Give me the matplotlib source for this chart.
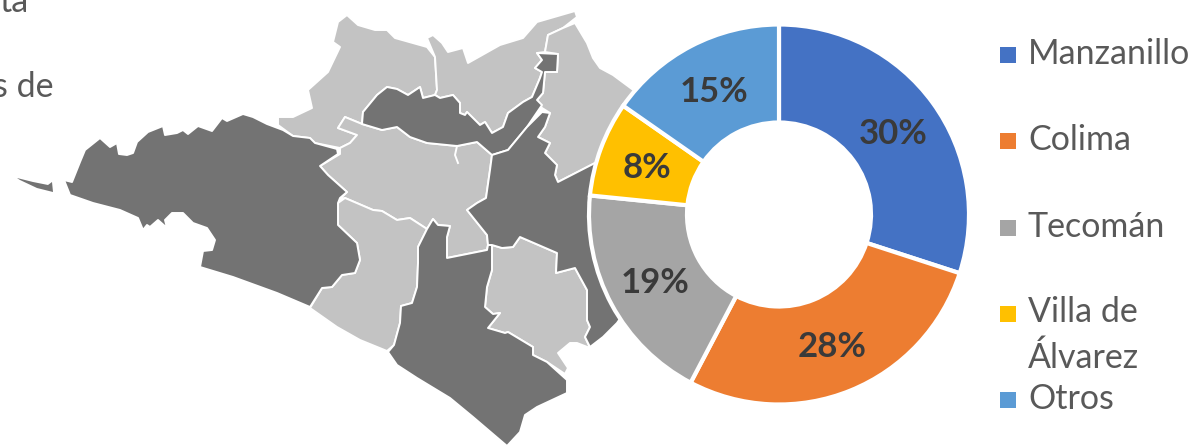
import matplotlib
matplotlib.use("Agg")
import matplotlib.pyplot as plt
from matplotlib.patches import Polygon

plt.rcParams['font.family'] = ['Lato', 'DejaVu Sans']

# donut data
categories = ['Manzanillo', 'Colima', 'Tecomán', 'Villa de\nÁlvarez', 'Otros']
shares = [30, 27.7, 18.9, 8.1, 15.3]
colors = ['#4472C4', '#ED7D31', '#A5A5A5', '#FFC000', '#5B9BD5']
legend_y = [55, 141, 228, 314, 400]
legend_text_y = [54, 140, 227, 335, 399]

# map outlines, traced in picture pixels
dark_west = [(64,180),(72,182),(80,162),(85,150),(100,138),(110,147),(117,143),(119,154),(127,155),
             (133,153),(137,142),(148,132),(163,126),(165,135),(177,133),(183,130),(188,134),(198,126),
             (212,131),(222,118),(227,121),(243,114),(253,117),(267,124),(283,130),(293,136),(310,138),
             (315,143),(337,149),(338,154),(320,166),(328,175),(347,192),(340,198),(338,203),(338,225),
             (357,243),(360,260),(355,273),(342,275),(332,287),(322,288),(310,307),(277,293),(233,277),
             (200,267),(203,251),(212,250),(215,240),(207,228),(193,223),(183,213),(172,213),(165,220),
             (167,228),(158,220),(150,227),(147,225),(143,230),(138,218),(120,210),(93,203),(70,195)]
dark_island = [(17,178),(33,182),(48,185),(52,182),(53,192),(37,188),(20,180)]
dark_south = [(433,219),(438,225),(450,226),(447,237),(447,258),(487,250),(488,245),(492,245),(492,270),
              (487,287),(485,307),(493,314),(500,313),(488,328),(505,333),(508,332),(533,347),(533,355),
              (547,362),(567,380),(567,393),(552,400),(537,407),(525,415),(520,432),(507,446),(473,417),
              (450,398),(417,378),(397,365),(388,352),(394,345),(400,323),(401,306),(412,303),(417,287),
              (418,263),(418,247),(427,229)]
dark_north = [(362,124),(363,112),(377,95),(387,87),(397,89),(408,95),(420,87),(423,98),(435,95),(440,98),
              (453,95),(460,103),(460,113),(465,115),(467,112),(480,125),(485,122),(492,133),(503,127),
              (508,113),(523,102),(532,97),(540,78),(542,72),(535,68),(542,60),(537,53),(558,54),(557,72),
              (545,72),(543,93),(537,100),(542,105),(527,127),(508,150),(492,155),(477,142),(457,146),
              (427,143),(410,137),(397,127),(382,130)]
dark_east = [(492,155),(508,150),(527,127),(542,112),(550,113),(545,127),(538,137),(550,143),(545,153),
             (557,165),(555,175),(558,182),(595,163),(640,170),(640,290),(617,323),(603,337),(590,347),
             (585,337),(590,327),(587,320),(587,290),(575,268),(556,273),(557,253),(520,237),(513,247),
             (502,248),(492,245),(488,245),(487,235),(467,210),(477,203),(486,198),(490,170)]
light_coast = [(345,198),(373,210),(382,211),(397,220),(410,218),(427,229),(418,247),(418,263),(417,287),
               (412,303),(401,306),(400,323),(394,345),(387,351),(360,340),(337,327),(310,308),(322,288),
               (332,287),(342,275),(355,273),(360,260),(357,243),(338,225),(338,203)]
light_pocket = [(492,245),(502,248),(513,247),(520,237),(557,253),(556,273),(575,268),(587,290),(587,320),
                (590,327),(585,337),(590,348),(577,343),(570,343),(558,353),(568,368),(565,374),(547,362),
                (533,355),(533,347),(508,332),(505,333),(488,328),(500,313),(493,314),(485,307),(487,287),
                (492,270)]
light_center = [(340,154),(320,166),(328,175),(347,192),(340,199),(345,198),(373,210),(382,211),(397,220),
                (410,218),(427,229),(433,219),(438,225),(450,226),(447,237),(447,258),(487,250),(488,245),
                (487,235),(467,210),(477,203),(486,198),(490,170),(492,155),(477,142),(457,146),(427,143),
                (410,137),(397,127),(382,130),(362,124),(345,117),(338,128),(357,135),(350,143),(340,148)]
light_nw = [(347,15),(358,25),(375,30),(387,30),(395,38),(427,47),(435,57),(437,90),(435,95),(423,98),
            (420,87),(408,95),(397,89),(387,87),(377,95),(363,112),(362,124),(345,117),(338,128),(357,135),
            (350,143),(340,148),(325,145),(315,143),(310,138),(293,136),(278,125),(278,117),(293,117),
            (312,108),(308,90),(328,72),(340,47),(333,42),(338,22)]
light_north = [(427,38),(433,35),(442,43),(448,52),(463,48),(468,63),(500,45),(523,38),(537,22),(575,11),
               (577,17),(563,28),(548,35),(545,52),(537,53),(542,60),(535,68),(542,72),(540,78),(532,97),
               (523,102),(508,113),(503,127),(492,133),(485,122),(480,125),(467,112),(465,115),(460,113),
               (460,103),(453,95),(440,98),(435,95),(437,90),(435,57)]
light_ne = [(575,23),(587,43),(593,58),(600,68),(613,75),(640,95),(640,150),(595,163),(558,182),(555,175),
            (557,165),(545,153),(550,143),(538,137),(545,127),(550,113),(542,108),(537,100),(543,93),
            (545,72),(557,72),(558,54),(545,52),(548,35),(563,28)]
river = [(457,146),(455,155),(458,163)]

DARK = '#737373'
LIGHT = '#C3C3C3'

fig = plt.figure(figsize=(12, 4.46), dpi=100)

ax = fig.add_axes([0, 0, 1, 1])
ax.set_xlim(0, 1200)
ax.set_ylim(446, 0)
ax.axis('off')

for shape in [light_nw, light_north, light_ne, light_center, light_coast, light_pocket]:
    ax.add_patch(Polygon(shape, closed=True, facecolor=LIGHT, edgecolor='white', lw=1.4, joinstyle='round'))
for shape in [dark_west, dark_south, dark_north, dark_east]:
    ax.add_patch(Polygon(shape, closed=True, facecolor=DARK, edgecolor='white', lw=1.4, joinstyle='round'))
ax.add_patch(Polygon(dark_island, closed=True, facecolor=DARK, edgecolor='none'))
ax.plot([p[0] for p in river], [p[1] for p in river], color='white', lw=1.4)

# bits of the cut off paragraph
ax.text(-1, 12, 'ta', fontsize=24.5, color='#595959', va='baseline')
ax.text(-7, 97, 's de', fontsize=24.5, color='#595959', va='baseline')

# legend, placed by hand because of the wrapped entry
for name, c, my, ty in zip(categories, colors, legend_y, legend_text_y):
    ax.plot([1008], [my], marker='s', ms=11.5, mew=0, color=c, ls='none')
    ax.text(1028, ty, name, fontsize=24.5, color='#595959', va='center', linespacing=1.5)

# donut
ax2 = fig.add_axes([579/1200, (446-414.5)/446, 400/1200, 400/446])
wedges, labels, pcts = ax2.pie(shares, colors=colors, startangle=90, counterclock=False, radius=190,
                               autopct='%.0f%%', pctdistance=0.74,
                               textprops=dict(fontsize=25, fontweight='bold', color='#3A3A3A'),
                               wedgeprops=dict(width=98, edgecolor='white', linewidth=3))
for t in pcts:
    t.set_y(t.get_position()[1] - 2)
ax2.set_xlim(-200, 200)
ax2.set_ylim(-200, 200)
ax2.set_aspect('equal')

fig.savefig('out.png', dpi=100)
